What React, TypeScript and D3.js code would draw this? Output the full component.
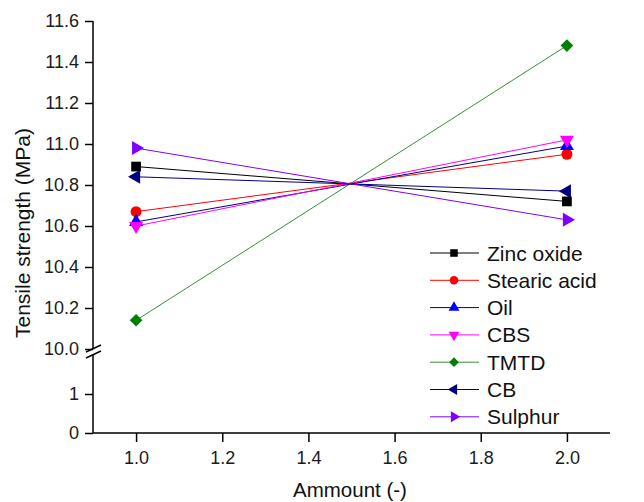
import * as d3 from 'd3';
import React, { useEffect, useRef } from 'react';

// data
const seriesNames = ['Zinc oxide', 'Stearic acid', 'Oil', 'CBS', 'TMTD', 'CB', 'Sulphur'];
const amounts = [1.0, 2.0];
const zincOxide = [10.89, 10.72];
const stearicAcid = [10.67, 10.95];
const oil = [10.62, 10.99];
const cbs = [10.6, 11.02];
const tmtd = [10.14, 11.48];
const cb = [10.84, 10.77];
const sulphur = [10.98, 10.63];
const colors = ['#000000', '#ff0000', '#0000ff', '#ff00ff', '#008000', '#000080', '#8000ff'];
const lineColors = ['#000000', '#ff0000', '#000080', '#ff00ff', '#3c8c3c', '#000080', '#8000ff'];
const xTicks = [1.0, 1.2, 1.4, 1.6, 1.8, 2.0];
const yTicksUpper = [10.0, 10.2, 10.4, 10.6, 10.8, 11.0, 11.2, 11.4, 11.6];
const yTicksLower = [0, 1];

const W = 644;
const H = 502;
const FONT = '"Liberation Sans", Arial, sans-serif';

export default function App() {
    const ref = useRef<SVGSVGElement>(null);

    useEffect(() => {
        const svg = d3.select(ref.current);
        svg.selectAll('*').remove();

        const allValues = [zincOxide, stearicAcid, oil, cbs, tmtd, cb, sulphur];

        const x = d3.scaleLinear().domain([0.9, 2.1]).range([93, 610]);
        const yUp = d3.scaleLinear().domain([10.0, 11.6]).range([349, 21]);
        const yLow = d3.scaleLinear().domain([0, 2]).range([433, 355]);

        // x axis
        const xAxis = svg.append('g').attr('transform', 'translate(0,433)');
        xAxis.call(d3.axisBottom(x).tickValues(d3.range(0.9, 2.101, 0.1)).tickSize(4).tickFormat(() => ''));
        xAxis.call(d3.axisBottom(x).tickValues(xTicks).tickSize(9).tickFormat(d3.format('.1f')));
        xAxis.selectAll('path.domain').attr('d', `M93,0H610`);

        // upper y axis
        const yA = svg.append('g').attr('transform', 'translate(93,0)');
        yA.call(d3.axisLeft(yUp).tickValues(d3.range(10.1, 11.6, 0.2)).tickSize(4).tickFormat(() => ''));
        yA.call(d3.axisLeft(yUp).tickValues(yTicksUpper).tickSize(8).tickFormat(d3.format('.1f')));
        yA.selectAll('path.domain').attr('d', `M0,${yUp(10)}V${yUp(11.6)}`);

        // lower y axis
        const yB = svg.append('g').attr('transform', 'translate(93,0)');
        yB.call(d3.axisLeft(yLow).tickValues([0.5, 1.5]).tickSize(4).tickFormat(() => ''));
        yB.call(d3.axisLeft(yLow).tickValues(yTicksLower).tickSize(8).tickFormat(d3.format('d')));
        yB.selectAll('path.domain').attr('d', `M0,${yLow(0)}V${yLow(2)}`);

        svg.selectAll('.tick line').attr('stroke', '#000').attr('stroke-width', 1.5);
        svg.selectAll('path.domain').attr('stroke', '#000').attr('stroke-width', 1.5);
        svg.selectAll('.tick text')
            .attr('font-family', FONT)
            .attr('font-size', 18)
            .attr('fill', '#1a1a1a');
        xAxis.selectAll('.tick text').attr('y', 31).attr('dy', 0);
        yA.selectAll('.tick text').attr('x', -14);
        yB.selectAll('.tick text').attr('x', -14);

        // break marks
        const brk = svg.append('g').attr('stroke', '#000').attr('stroke-width', 1.5);
        brk.append('line').attr('x1', 86).attr('y1', 352).attr('x2', 101).attr('y2', 345);
        brk.append('line').attr('x1', 86).attr('y1', 358).attr('x2', 101).attr('y2', 351);

        const symbolFor = (i: number, size: number) => {
            const types = [d3.symbolSquare, d3.symbolCircle, d3.symbolTriangle, d3.symbolTriangle,
                d3.symbolSquare, d3.symbolTriangle, d3.symbolTriangle];
            return d3.symbol().type(types[i]).size(size)();
        };
        const rot = [0, 0, 0, 180, 45, -90, 90];
        const sizes = [95, 95, 85, 85, 80, 85, 85];

        const line = d3.line<number>().x((d, j) => x(amounts[j])).y(d => yUp(d));

        allValues.forEach((vals, i) => {
            svg.append('path')
                .attr('d', line(vals))
                .attr('fill', 'none')
                .attr('stroke', lineColors[i])
                .attr('stroke-width', 1);
        });
        allValues.forEach((vals, i) => {
            svg.append('g').selectAll('path')
                .data(vals)
                .enter()
                .append('path')
                .attr('d', symbolFor(i, sizes[i]))
                .attr('transform', (d, j) => `translate(${x(amounts[j])},${yUp(d)}) rotate(${rot[i]})`)
                .attr('fill', colors[i]);
        });

        // legend
        const leg = svg.append('g');
        seriesNames.forEach((name, i) => {
            const yy = 253 + i * 27.3;
            leg.append('line')
                .attr('x1', 430).attr('x2', 479).attr('y1', yy).attr('y2', yy)
                .attr('stroke', lineColors[i]).attr('stroke-width', 1);
            leg.append('path')
                .attr('d', symbolFor(i, sizes[i] * 0.6))
                .attr('transform', `translate(454,${yy}) rotate(${rot[i]})`)
                .attr('fill', colors[i]);
            leg.append('text')
                .attr('x', 487).attr('y', yy)
                .attr('dy', '0.36em')
                .attr('font-family', FONT)
                .attr('font-size', 21)
                .attr('fill', '#111')
                .text(name);
        });

        // titles
        svg.append('text')
            .attr('x', 350).attr('y', 497)
            .attr('text-anchor', 'middle')
            .attr('font-family', FONT)
            .attr('font-size', 20.5)
            .attr('fill', '#111')
            .text('Ammount (-)');
        svg.append('text')
            .attr('transform', 'translate(30,233) rotate(-90)')
            .attr('text-anchor', 'middle')
            .attr('font-family', FONT)
            .attr('font-size', 21)
            .attr('fill', '#111')
            .text('Tensile strength (MPa)');
    }, []);

    return (
        <div style={{ position: 'absolute', left: 0, top: 0 }}>
            <svg ref={ref} width={W} height={H} style={{ display: 'block', background: '#fff' }} />
        </div>
    );
}
